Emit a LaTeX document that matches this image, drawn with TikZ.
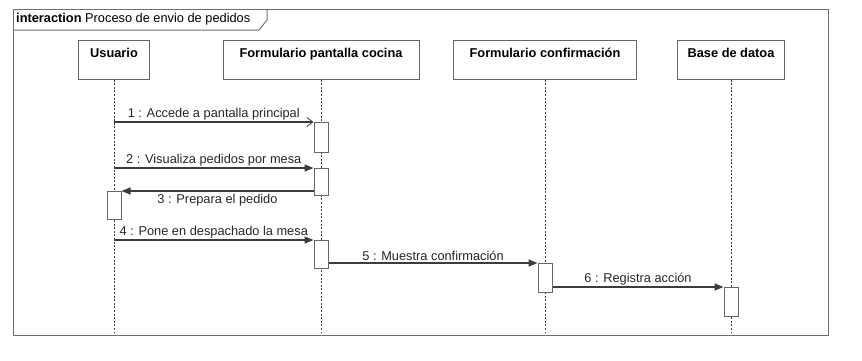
\documentclass[tikz,border=0pt]{standalone}
\usepackage{fontspec}
\setmainfont{Liberation Sans}
\usetikzlibrary{arrows.meta,positioning}
\definecolor{framegray}{HTML}{6E6E6E}
\definecolor{boxgray}{HTML}{666666}
\definecolor{msgdark}{HTML}{3C3C3C}

\begin{document}
\begin{tikzpicture}[x = 1pt, y = -1pt, font = \fontsize{12.8}{14}\selectfont,
  head/.style = {draw = boxgray, line width = 1pt, fill = white, font = \fontsize{12.8}{14}\selectfont\bfseries,
                 text height = 13pt, text depth = 18pt, inner ysep = 4pt},
  life/.style = {draw = msgdark, dash pattern = on 2pt off 1.6pt, line width = 0.8pt},
  act/.style = {draw = boxgray, line width = 1pt, fill = white, minimum width = 14pt, inner sep = 0pt, anchor = north},
  msg/.style = {draw = msgdark, line width = 1.2pt, -{Triangle[length = 9pt, width = 7pt]}},
  msgopen/.style = {draw = msgdark, line width = 1.2pt, -{Straight Barb[length = 6pt, width = 9pt, line width = 0.8pt]}},
  lbl/.style = {inner sep = 1.5pt, text = black!85}]
\useasboundingbox (0,0) rectangle (862,360);
% frame and its tab
\node[draw = framegray, line width = 1.4pt, minimum width = 815pt, minimum height = 326pt, anchor = north west, inner sep = 0pt] (frame) at (13,9) {};
\draw[framegray, line width = 1pt] (13,30) -- (259,30) -- (267,20) -- (267,9);
\node[anchor = west, inner sep = 0pt] (title) at (16,19.5) {\textbf{interaction} Proceso de envio de pedidos};
% lifeline heads
\node[head, minimum width = 71pt] (usuario) at (114,59.5) {Usuario};
\node[head, minimum width = 196pt] (cocina) at (321,59.5) {Formulario pantalla cocina};
\node[head, minimum width = 183pt] (confirm) at (545,59.5) {Formulario confirmación};
\node[head, minimum width = 107pt] (basedatos) at (731,59.5) {Base de datoa};
\coordinate (bottom) at (0,332);
\draw[life] (usuario) -- (usuario |- bottom);
\draw[life] (cocina) -- (cocina |- bottom);
\draw[life] (confirm) -- (confirm |- bottom);
\draw[life] (basedatos) -- (basedatos |- bottom);
% activations
\node[act, minimum height = 30pt] (a1) at (321,122) {};
\node[act, minimum height = 27pt] (a2) at (321,168) {};
\node[act, minimum height = 28pt] (a3) at (114,191) {};
\node[act, minimum height = 28pt] (a4) at (321,240) {};
\node[act, minimum height = 29pt] (a5) at (545,263) {};
\node[act, minimum height = 29pt] (a6) at (731,287) {};
% messages
\draw[msgopen] (usuario |- a1.north) -- (a1.north west) node[midway, above, lbl] {1 : Accede a pantalla principal};
\draw[msg] (usuario |- a2.north) -- (a2.north west) node[midway, above, lbl] {2 : Visualiza pedidos por mesa};
\draw[msg] (a2.west |- a3.north) -- (a3.north east) node[midway, below, lbl, inner sep = 3pt] {3 : Prepara el pedido};
\draw[msg] (usuario |- a4.north) -- (a4.north west) node[midway, above, lbl] {4 : Pone en despachado la mesa};
\draw[msg] (a4.east |- a5.north) -- (a5.north west) node[midway, above, lbl] {5 : Muestra confirmación};
\draw[msg] (a5.east |- a6.north) -- (a6.north west) node[midway, above, lbl] {6 : Registra acción};
\end{tikzpicture}
\end{document}
